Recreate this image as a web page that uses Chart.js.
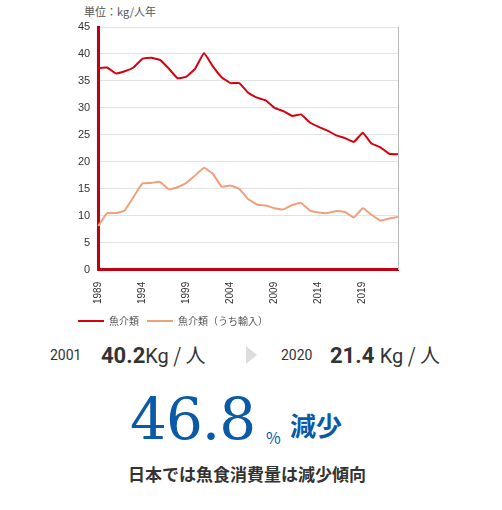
<!DOCTYPE html>
<html><head><meta charset="utf-8">
<script src="https://cdn.jsdelivr.net/npm/chart.js@4"></script>
<style>
body{margin:0;width:502px;height:510px;background:#fff;position:relative;font-family:"Noto Sans CJK JP",sans-serif;color:#333;overflow:hidden}
.a{position:absolute;white-space:nowrap}
</style></head><body>
<div class="a" style="left:84px;top:3px;font-size:11px;color:#555">単位：kg/人年</div>
<div style="position:absolute;left:0;top:0;width:502px;height:336px"><canvas id="c"></canvas></div>
<div class="a" style="left:50px;top:347px;font-size:14px;font-family:Roboto">2001</div>
<div class="a" style="left:101px;top:340px;font-size:22px;font-weight:bold;font-family:Roboto">40.2<span style="font-weight:normal;font-size:20px">Kg</span><span style="font-weight:normal;font-size:20px;font-family:'Noto Sans CJK JP'"> / 人</span></div>
<div class="a" style="left:246px;top:346px;width:0;height:0;border-top:9px solid transparent;border-bottom:9px solid transparent;border-left:11px solid #ddd"></div>
<div class="a" style="left:281px;top:347px;font-size:14px;font-family:Roboto">2020</div>
<div class="a" style="left:330px;top:340px;font-size:22px;font-weight:bold;font-family:Roboto">21.4 <span style="font-weight:normal;font-size:20px">Kg</span><span style="font-weight:normal;font-size:20px;font-family:'Noto Sans CJK JP'"> / 人</span></div>
<div class="a" style="left:130px;top:384px;font-size:58px;color:#0a5aa8;font-family:'DejaVu Serif';line-height:70px;letter-spacing:-1px">46.8</div>
<div class="a" style="left:266px;top:425px;font-size:16px;color:#0a5aa8">%</div>
<div class="a" style="left:290px;top:409px;font-size:26px;color:#0a5aa8;font-weight:bold;line-height:32px">減少</div>
<div class="a" style="left:128px;top:461px;font-size:17px;font-weight:bold;color:#333">日本では魚食消費量は減少傾向</div>
<script>
const years=[];for(let y=1989;y<=2023;y++)years.push(String(y));
const fish=[37.4,37.5,36.4,36.8,37.5,39.1,39.3,38.9,37.3,35.5,35.8,37.3,40.2,37.7,35.7,34.6,34.6,32.8,31.9,31.4,30.0,29.4,28.5,28.8,27.3,26.5,25.8,24.9,24.4,23.7,25.4,23.4,22.7,21.5,21.4];
const imports=[8.1,10.5,10.5,11.0,13.5,16.0,16.1,16.3,14.9,15.3,16.1,17.5,18.9,17.8,15.4,15.6,15.0,13.1,12.1,11.9,11.4,11.2,12.0,12.4,11.0,10.6,10.5,10.9,10.7,9.7,11.4,10.2,9.1,9.5,9.8];
const yTicks=[0,5,10,15,20,25,30,35,40,45];
new Chart(document.getElementById('c'),{type:'line',
data:{labels:years,datasets:[
{label:'魚介類',data:fish,borderColor:'#d7000f',borderWidth:2,pointRadius:0,tension:0.1,yAxisID:'y'},
{label:'魚介類（うち輸入）',data:imports,borderColor:'#f0a07a',borderWidth:2,pointRadius:0,tension:0.1,yAxisID:'y'}]},
options:{responsive:true,maintainAspectRatio:false,animation:false,
layout:{padding:{left:70,right:96,top:27,bottom:0}},
plugins:{tooltip:{enabled:false},legend:{position:'bottom',align:'start',labels:{boxWidth:26,boxHeight:0,padding:8,color:'#555',font:{size:10,family:'Noto Sans CJK JP'}}}},
scales:{
x:{offset:false,grid:{display:false},border:{color:'#c00010',width:3},
 ticks:{autoSkip:false,maxRotation:90,minRotation:90,color:'#333',font:{size:10,family:'Liberation Sans'},padding:4,
 callback:function(v,i){return (i%5===0)?years[i]:'';}}},
y:{min:0,max:45,afterBuildTicks:a=>{a.ticks=yTicks.map(v=>({value:v}));},
 grid:{color:'#e2e2e2',drawTicks:false},border:{color:'#c00010',width:3},
 ticks:{color:'#333',font:{size:11,family:'Liberation Sans'},padding:8}},
y1:{position:'right',min:0,max:45,grid:{display:false},ticks:{display:false},border:{color:'#bbb',width:1}}
}}});
</script>
</body></html>
